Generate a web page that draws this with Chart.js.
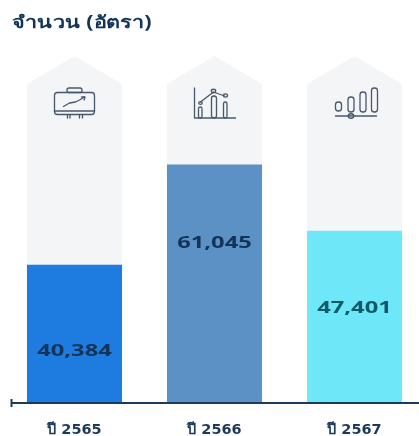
<!DOCTYPE html>
<html><head><meta charset="utf-8">
<style>html,body{margin:0;padding:0;background:#fff;overflow:hidden;width:419px;height:436px}canvas{display:block}</style>
<script src="https://cdn.jsdelivr.net/npm/chart.js@4/dist/chart.umd.min.js"></script>
</head><body><canvas id="c" width="430" height="436"></canvas>
<script>
const categories = ['ปี 2565','ปี 2566','ปี 2567'];
const values = [40384,61045,47401];
const valueLabels = ['40,384','61,045','47,401'];
const backdropShoulder = [77600,77600,77600];
const backdropApex = 83350;
const axisMin = 11955;
const chartTitle = 'จำนวน (อัตรา)';
const barColors = ['#1e7be0','#5b91c4','#6ee8f9'];
const labelColors = ['#12345a','#12345a','#0f5a66'];
const labelDrop = [87,79,78];
const INK = '#1b3a5c', ICON = '#46586c', BACK = '#f4f5f7';

const decor = {
  id:'decor',
  beforeDatasetsDraw(ch){
    const m = ch.getDatasetMeta(0), ctx = ch.ctx, ys = ch.scales.y;
    ctx.save(); ctx.fillStyle = BACK;
    m.data.forEach(b=>{
      const w=b.width/2; ctx.beginPath();
      ctx.moveTo(b.x-w,b.y); ctx.lineTo(b.x,ys.getPixelForValue(backdropApex)); ctx.lineTo(b.x+w,b.y);
      ctx.closePath(); ctx.fill();
    });
    ctx.restore();
  },
  afterDatasetsDraw(ch){
    const ctx=ch.ctx, m=ch.getDatasetMeta(0), m2=ch.getDatasetMeta(1), base=ch.scales.y.bottom;
    ctx.save();
    // title
    ctx.save(); ctx.translate(12,23); ctx.scale(1.27,1);
    ctx.font='bold 17px "Noto Sans"'; ctx.textAlign='left'; ctx.textBaseline='middle';
    ctx.fillStyle='#12345a'; ctx.fillText(chartTitle,0,0); ctx.restore();
    // axis
    ctx.strokeStyle=INK; ctx.lineWidth=2;
    ctx.beginPath(); ctx.moveTo(11,base); ctx.lineTo(ch.width,base); ctx.stroke();
    ctx.beginPath(); ctx.moveTo(11.5,base-4); ctx.lineTo(11.5,base+4); ctx.stroke();
    // value labels
    m2.data.forEach((b,i)=>{
      ctx.save();
      ctx.translate(b.x,b.y+labelDrop[i]); ctx.scale(1.48,1);
      ctx.font='bold 16px "Open Sans"'; ctx.textAlign='center'; ctx.textBaseline='middle';
      ctx.fillStyle=labelColors[i]; ctx.fillText(valueLabels[i],0,0);
      ctx.restore();
    });
    // icons
    ctx.strokeStyle=ICON; ctx.lineWidth=1.3; ctx.lineCap='round'; ctx.lineJoin='round';
    const r=(x,y,w,h,q)=>{ctx.beginPath();ctx.roundRect(x,y,w,h,q);ctx.stroke();};
    const l=(...p)=>{ctx.beginPath();ctx.moveTo(p[0],p[1]);for(let i=2;i<p.length;i+=2)ctx.lineTo(p[i],p[i+1]);ctx.stroke();};
    const c=(x,y,q)=>{ctx.beginPath();ctx.ellipse(x,y,q,q*0.8,0,0,7);ctx.stroke();};
    let X=m.data[0].x;
    r(X-20,92.5,40,22,3); r(X-7.5,88,15,4.5,2); l(X-20,111,X+20,111);
    l(X-7,115,X-7,118);l(X-4.5,115,X-4.5,118);l(X+5,115,X+5,118);l(X+8,115,X+8,118);
    l(X-11,106.5,X-5,103,X+1,102,X+5,100,X+10,97); l(X+7,97,X+10.5,97,X+9.5,100);
    X=m.data[1].x;
    l(X-20,88,X-20,118,X+21,118);
    r(X-16,107,3.5,11,1.7); r(X-3,96,5,22,2.4); r(X+9,102,3.5,16,1.7);
    l(X-14,102,X-1,92,X+10,96); c(X-14,103,1.8); c(X-1,91,2.2); c(X+11,95.5,2);
    X=m.data[2].x;
    r(X-19,102,6,9,2.8); r(X-6.5,97,6,15,2.8); r(X+5.5,92,6,20,2.8); r(X+17,88,6,24,2.8);
    l(X-19,116,X+22,116); c(X-3.5,116,2.8);
    ctx.restore();
  }
};

new Chart(document.getElementById('c'),{
  type:'bar',
  data:{labels:categories,datasets:[
    {label:'พื้นหลัง',data:backdropShoulder,backgroundColor:BACK,order:2},
    {label:'จำนวน',data:values,backgroundColor:barColors,order:1}
  ]},
  options:{
    responsive:false,animation:false,
    layout:{padding:{left:4.5,right:5.5,top:56,bottom:0}},
    datasets:{bar:{grouped:false,barPercentage:0.679,categoryPercentage:1}},
    plugins:{legend:{display:false},tooltip:{enabled:false},title:{display:false}},
    scales:{
      x:{grid:{display:false},border:{display:false},
        afterFit(s){s.height=33;},
        ticks:{color:INK,font:{family:'"DejaVu Sans"',size:14.5,weight:'bold'},padding:11,maxRotation:0}},
      y:{display:false,min:axisMin,max:backdropApex}
    }
  },
  plugins:[decor]
});
</script></body></html>
